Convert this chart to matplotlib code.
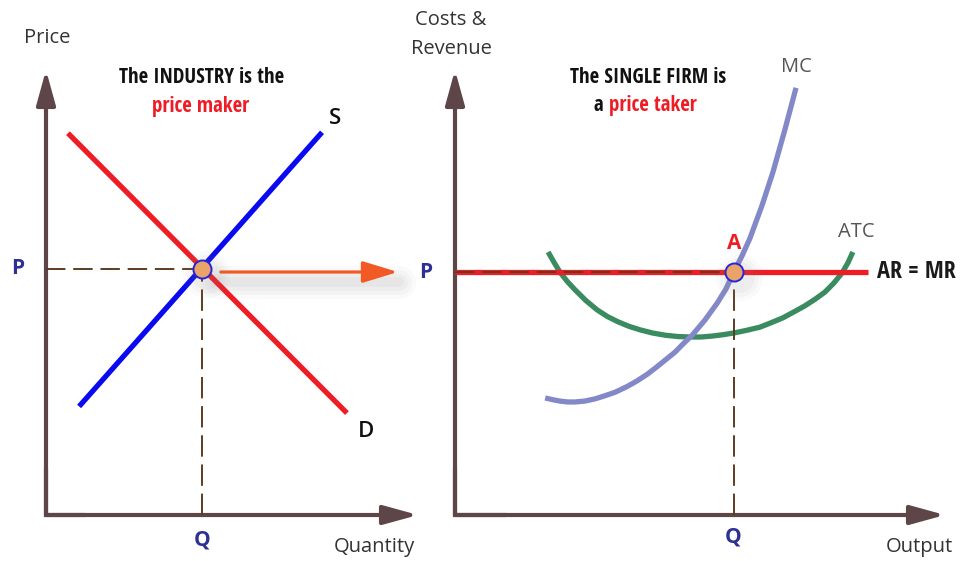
import matplotlib
matplotlib.use('Agg')
import matplotlib.pyplot as plt

plt.rcParams['font.family'] = ['Open Sans', 'DejaVu Sans']

# left panel: the industry (both axes run 0..10)
p_ind = 5.53
q_ind = 4.19
supply_q = [0.89, 7.42]
supply_p = [2.44, 8.60]
demand_q = [0.59, 8.09]
demand_p = [8.58, 2.29]

# right panel: the single firm
p_firm = 5.46
q_firm = 5.69
armr_q = [0.0, 8.43]
mc_q = [1.84, 2.00, 2.14, 2.30, 2.45, 2.65, 2.86, 3.06, 3.27, 3.50, 3.71, 3.92,
        4.12, 4.30, 4.49, 4.66, 4.84, 5.10, 5.35, 5.53, 5.69, 5.86, 6.02, 6.27,
        6.49, 6.73, 6.96]
mc_c = [2.63, 2.59, 2.56, 2.54, 2.54, 2.56, 2.61, 2.68, 2.76, 2.88, 3.01, 3.16,
        3.33, 3.49, 3.66, 3.85, 4.04, 4.38, 4.76, 5.08, 5.46, 5.83, 6.22, 6.97,
        7.71, 8.65, 9.60]
atc_q = [1.90, 2.02, 2.14, 2.29, 2.45, 2.67, 2.90, 3.11, 3.33, 3.55, 3.78, 4.03,
         4.29, 4.55, 4.80, 5.02, 5.24, 5.46, 5.69, 5.95, 6.22, 6.45, 6.69, 6.91,
         7.14, 7.35, 7.55, 7.73, 7.90, 8.02, 8.12]
atc_c = [5.91, 5.68, 5.46, 5.25, 5.06, 4.82, 4.61, 4.46, 4.34, 4.24, 4.16, 4.09,
         4.04, 4.01, 4.00, 4.00, 4.02, 4.05, 4.09, 4.15, 4.22, 4.32, 4.43, 4.56,
         4.70, 4.85, 5.01, 5.21, 5.44, 5.67, 5.91]

axis_col = '#5e4547'
dash_col = '#5c3d22'
red = '#ee1c25'
lab_blue = '#2e3192'
narrow = ['Liberation Sans Narrow', 'Noto Sans Condensed', 'DejaVu Sans Condensed',
          'Open Sans Condensed', 'Roboto Condensed', 'Noto Sans']

fig = plt.figure(figsize=(9.65, 5.61), dpi=100)
axl = fig.add_axes([46/965, 46/561, 372/965, 445/561])
axr = fig.add_axes([455/965, 46/561, 490/965, 445/561])

def frame(ax):
    ax.set_xlim(0, 10)
    ax.set_ylim(0, 10)
    ax.axis('off')
    ap = dict(arrowstyle='-|>,head_length=1.05,head_width=0.29', mutation_scale=20,
              lw=3, color=axis_col, shrinkA=0, shrinkB=0)
    ax.annotate('', xy=(0, 10), xytext=(0, 0), arrowprops=ap, annotation_clip=False)
    ax.annotate('', xy=(10, 0), xytext=(0, 0), arrowprops=ap, annotation_clip=False)
    ax.plot([0, 0, 1], [1, 0, 0], color=axis_col, lw=3, solid_joinstyle='miter', clip_on=False)

def dashes(ax, q, p):
    ax.plot([0, q], [p, p], color=dash_col, lw=1.4, ls=(0, (10, 4)), clip_on=False, zorder=4)
    ax.plot([q, q], [0, p], color=dash_col, lw=1.4, ls=(0, (11, 4)), clip_on=False, zorder=4)

def dot(ax, q, p):
    for w, a in [(34, 0.04), (28, 0.05), (22, 0.06)]:
        ax.plot(q + 0.1, p - 0.12, 'o', ms=w, color='#888888', alpha=a, mec='none', clip_on=False, zorder=5)
    ax.plot(q, p, 'o', ms=13, mfc='#eaa46a', mec='#2626d9', mew=1.4, clip_on=False, zorder=6)

def title(ax, x, y, s, col, ha='center'):
    ax.text(x, y, s, ha=ha, va='center', fontsize=15, fontweight='bold', fontstretch='condensed',
            family=narrow, color=col)

# ---- left: industry
frame(axl)
dashes(axl, q_ind, p_ind)
axl.plot(demand_q, demand_p, color=red, lw=3.8, solid_capstyle='butt', zorder=3)
axl.plot(supply_q, supply_p, color='#0a0af0', lw=3.8, solid_capstyle='butt', zorder=3)

# shadow under the transfer arrow
for w, a in [(24, 0.03), (18, 0.04), (12, 0.05), (7, 0.05)]:
    axl.plot([4.6, 9.5], [p_ind - 0.3, p_ind - 0.3], color='#777777', lw=w, alpha=a,
             solid_capstyle='round', clip_on=False, zorder=2)
axl.annotate('', xy=(9.46, p_firm), xytext=(4.70, p_firm),
             arrowprops=dict(arrowstyle='-|>,head_length=1.08,head_width=0.33', mutation_scale=20,
                             lw=2.3, color='#f15a24', shrinkA=0, shrinkB=0),
             annotation_clip=False, zorder=5)
dot(axl, q_ind, p_ind)

axl.text(0.03, 10.72, 'Price', ha='center', va='center', fontsize=14.5, color='#333333')
axl.text(8.82, -0.72, 'Quantity', ha='center', va='center', fontsize=14.5, color='#333333')
axl.text(-0.75, p_ind, 'P', ha='center', va='center', fontsize=15, fontweight='bold', color=lab_blue)
axl.text(q_ind, -0.56, 'Q', ha='center', va='center', fontsize=15, fontweight='bold', color=lab_blue)
axl.text(7.77, 8.90, 'S', ha='center', va='center', fontsize=16, fontweight='semibold', color='#111111')
axl.text(8.60, 1.87, 'D', ha='center', va='center', fontsize=16, fontweight='semibold', color='#111111')
title(axl, 4.17, 9.84, 'The INDUSTRY is the', '#111111')
title(axl, 4.17, 9.17, 'price maker', red)

# ---- right: single firm
frame(axr)
axr.plot(atc_q, atc_c, color='#3a8b5f', lw=3.8, solid_capstyle='butt', solid_joinstyle='round', zorder=2)
axr.plot(mc_q, mc_c, color='#8388c8', lw=3.8, solid_capstyle='butt', solid_joinstyle='round', zorder=2.5)
axr.plot(armr_q, [p_firm, p_firm], color=red, lw=3.8, solid_capstyle='butt', clip_on=False, zorder=3)
dashes(axr, q_firm, p_firm)
dot(axr, q_firm, p_firm)

axr.text(-0.08, 11.12, 'Costs &', ha='center', va='center', fontsize=14.5, color='#333333')
axr.text(-0.08, 10.47, 'Revenue', ha='center', va='center', fontsize=14.5, color='#333333')
axr.text(9.47, -0.72, 'Output', ha='center', va='center', fontsize=14.5, color='#333333')
axr.text(-0.59, p_firm, 'P', ha='center', va='center', fontsize=15, fontweight='bold', color=lab_blue)
axr.text(q_firm - 0.02, -0.49, 'Q', ha='center', va='center', fontsize=15, fontweight='bold', color=lab_blue)
axr.text(q_firm, 6.11, 'A', ha='center', va='center', fontsize=15, fontweight='bold', color=red)
axr.text(6.96, 10.07, 'MC', ha='center', va='center', fontsize=14.5, color='#555555')
axr.text(8.20, 6.36, 'ATC', ha='center', va='center', fontsize=14.5, color='#555555')
axr.text(8.61, p_firm, 'AR = MR', ha='left', va='center', fontsize=17.5, fontweight='bold',
         fontstretch='condensed', family=narrow, color='#1a1a1a')
title(axr, 3.94, 9.84, 'The SINGLE FIRM is', '#111111')
title(axr, 3.02, 9.21, 'a', '#111111', ha='right')
title(axr, 3.14, 9.21, 'price taker', red, ha='left')

fig.savefig('out.png', dpi=100, facecolor='white')
